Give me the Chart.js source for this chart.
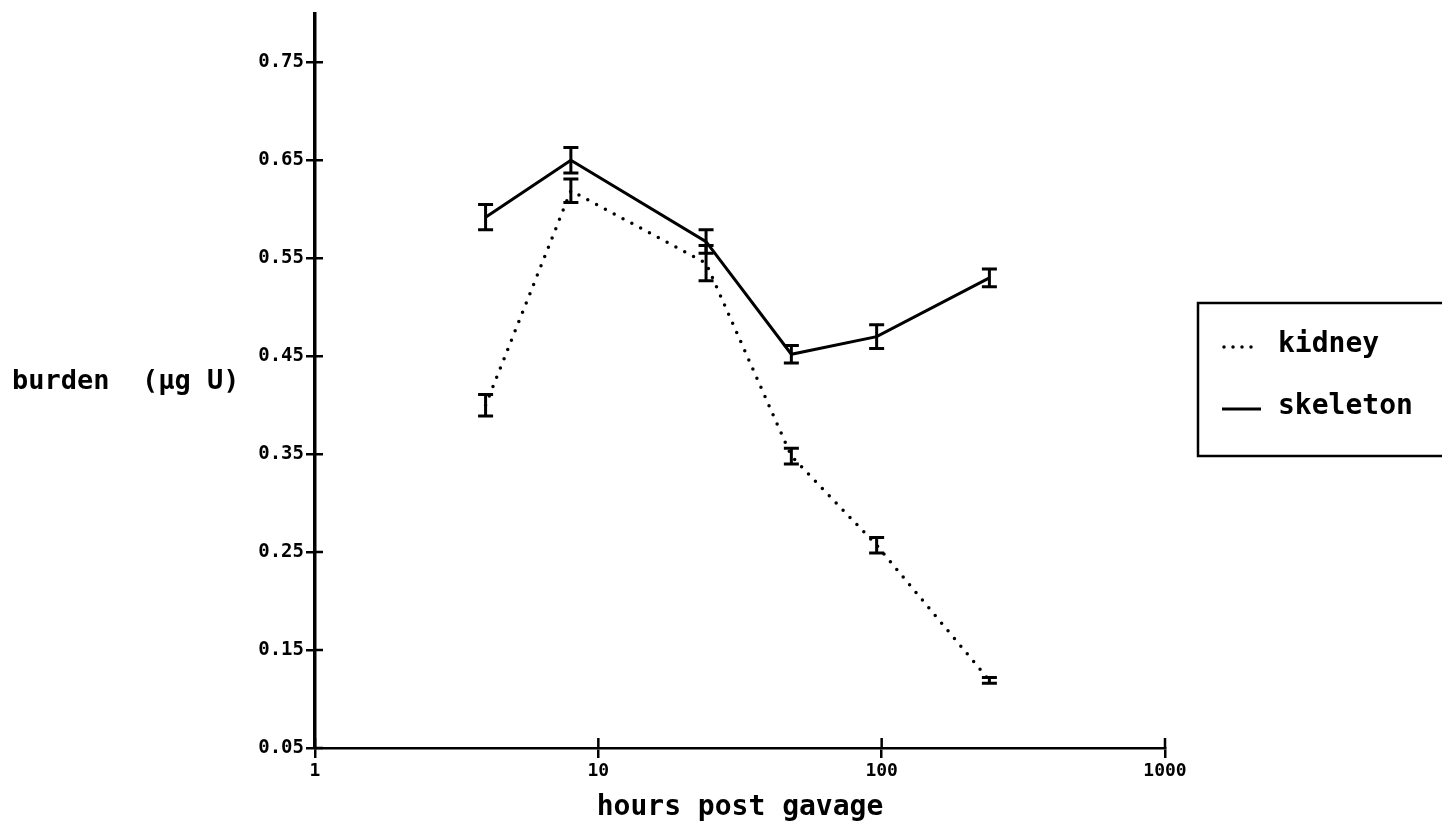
<!DOCTYPE html>
<html>
<head>
<meta charset="utf-8">
<script src="https://cdn.jsdelivr.net/npm/chart.js@4.4.1/dist/chart.umd.min.js"></script>
<style>
  body { margin: 0; background: #fff; }
  #wrap { width: 1442px; height: 831px; position: relative; }
</style>
</head>
<body>
<div id="wrap"><canvas id="burden"></canvas></div>
<script>
// hours after gavage, log x axis
var hours = [4, 8, 24, 48, 96, 240];
var kidney = [0.400, 0.619, 0.545, 0.348, 0.257, 0.119];
var kidneyErr = [0.011, 0.012, 0.018, 0.008, 0.008, 0.003];
var skeleton = [0.592, 0.650, 0.567, 0.452, 0.470, 0.530];
var skeletonErr = [0.013, 0.013, 0.012, 0.009, 0.012, 0.009];
var xTicks = [1, 10, 100, 1000];
var yTicks = [0.05, 0.15, 0.25, 0.35, 0.45, 0.55, 0.65, 0.75];

var mono = "'DejaVu Sans Mono', 'Liberation Mono', monospace";

function points(ys) {
    return hours.map(function(h, i) { return { x: h, y: ys[i] }; });
}

// vertical error bars with caps
var errorBars = {
    id: 'errorBars',
    afterDatasetsDraw: function(chart) {
        var ctx = chart.ctx, x = chart.scales.x, y = chart.scales.y;
        ctx.save();
        ctx.strokeStyle = '#000';
        ctx.lineWidth = 3;
        chart.data.datasets.forEach(function(ds) {
            ds.data.forEach(function(p, i) {
                var px = x.getPixelForValue(p.x);
                var top = y.getPixelForValue(p.y + ds.errors[i]);
                var bot = y.getPixelForValue(p.y - ds.errors[i]);
                ctx.beginPath();
                ctx.moveTo(px, top); ctx.lineTo(px, bot);
                ctx.moveTo(px - 7.5, top); ctx.lineTo(px + 7.5, top);
                ctx.moveTo(px - 7.5, bot); ctx.lineTo(px + 7.5, bot);
                ctx.stroke();
            });
        });
        ctx.restore();
    }
};

// inner halves of the tick marks, y title and boxed legend
var extras = {
    id: 'extras',
    afterDraw: function(chart) {
        var ctx = chart.ctx, x = chart.scales.x, y = chart.scales.y;
        var area = chart.chartArea;
        ctx.save();
        ctx.strokeStyle = '#000';
        ctx.lineWidth = 2.5;
        ctx.beginPath();
        y.ticks.forEach(function(t) {
            var py = y.getPixelForValue(t.value);
            ctx.moveTo(area.left, py); ctx.lineTo(area.left + 8, py);
        });
        x.ticks.forEach(function(t) {
            var px = x.getPixelForValue(t.value);
            ctx.moveTo(px, area.bottom); ctx.lineTo(px, area.bottom - 10);
        });
        ctx.stroke();

        ctx.fillStyle = '#000';
        ctx.font = 'bold 27px ' + mono;
        ctx.textBaseline = 'middle';
        ctx.textAlign = 'left';
        ctx.fillText('burden  (\u00b5g U)', 12, 382);

        // legend
        ctx.font = 'bold 28px ' + mono;
        ctx.lineWidth = 2.5;
        ctx.strokeRect(1198, 303, 260, 153);
        ctx.fillText('kidney', 1278, 345);
        ctx.fillText('skeleton', 1278, 407);
        ctx.lineWidth = 3.5;
        ctx.lineCap = 'round';
        ctx.setLineDash([0, 9]);
        ctx.beginPath();
        ctx.moveTo(1224, 347); ctx.lineTo(1260, 347);
        ctx.stroke();
        ctx.setLineDash([]);
        ctx.lineCap = 'butt';
        ctx.lineWidth = 3;
        ctx.beginPath();
        ctx.moveTo(1222, 409); ctx.lineTo(1261, 409);
        ctx.stroke();
        ctx.restore();
    }
};

var ctx = document.getElementById('burden');
var chart = new Chart(ctx, {
    type: 'line',
    data: {
        datasets: [{
            label: 'kidney',
            data: points(kidney),
            errors: kidneyErr,
            borderColor: '#000',
            borderWidth: 3.5,
            borderDash: [0, 10],
            borderCapStyle: 'round',
            pointRadius: 0,
            tension: 0,
            fill: false
        }, {
            label: 'skeleton',
            data: points(skeleton),
            errors: skeletonErr,
            borderColor: '#000',
            borderWidth: 3,
            pointRadius: 0,
            tension: 0,
            fill: false
        }]
    },
    options: {
        responsive: true,
        maintainAspectRatio: false,
        animation: false,
        layout: { padding: { left: 0, top: 12, right: 277, bottom: 0 } },
        plugins: {
            legend: { display: false },
            tooltip: { enabled: false }
        },
        scales: {
            x: {
                type: 'logarithmic',
                min: 1,
                max: 1000,
                afterBuildTicks: function(s) {
                    s.ticks = xTicks.map(function(v) { return { value: v }; });
                },
                afterFit: function(s) { s.height = 83; },
                ticks: {
                    color: '#000',
                    padding: 3,
                    maxRotation: 0,
                    font: { family: mono, size: 18, weight: 'bold' },
                    callback: function(v) { return String(v); }
                },
                grid: {
                    drawOnChartArea: false,
                    color: '#000',
                    lineWidth: 2.5,
                    tickLength: 10
                },
                border: { color: '#000', width: 2.5 },
                title: {
                    display: true,
                    text: 'hours post gavage',
                    color: '#000',
                    font: { family: mono, size: 28, weight: 'bold' },
                    padding: { top: 4, bottom: 6 }
                }
            },
            y: {
                type: 'linear',
                min: 0.05,
                max: 0.8,
                afterBuildTicks: function(s) {
                    s.ticks = yTicks.map(function(v) { return { value: v }; });
                },
                afterFit: function(s) { s.width = 315; },
                ticks: {
                    color: '#000',
                    padding: 2,
                    font: { family: mono, size: 19, weight: 'bold' },
                    callback: function(v) { return Number(v).toFixed(2); }
                },
                grid: {
                    drawOnChartArea: false,
                    color: '#000',
                    lineWidth: 2.5,
                    tickLength: 9
                },
                border: { color: '#000', width: 3.5 }
            }
        }
    },
    plugins: [errorBars, extras]
});
</script>
</body>
</html>
